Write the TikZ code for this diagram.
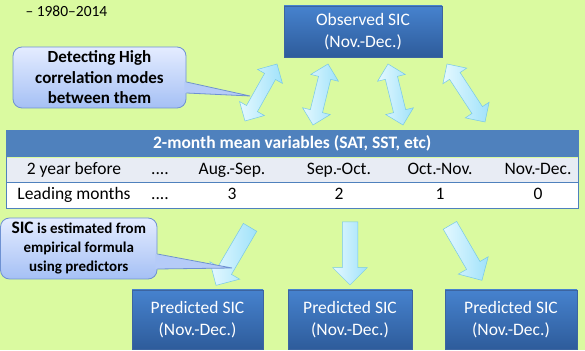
\documentclass[tikz,border=0pt]{standalone}
\usepackage{fontspec}
\setmainfont{Carlito}
\usetikzlibrary{positioning, calc, shapes.arrows}
\definecolor{bggreen}{RGB}{218,250,160}
\definecolor{sictop}{RGB}{70,130,206}
\definecolor{sicbot}{RGB}{46,92,155}
\definecolor{sicedge}{RGB}{60,100,160}
\definecolor{tblblue}{RGB}{79,129,189}
\definecolor{tblgray}{RGB}{232,236,244}
\definecolor{caltop}{RGB}{228,236,255}
\definecolor{calbot}{RGB}{165,192,245}
\definecolor{caledge}{RGB}{110,145,210}
\definecolor{arrlight}{RGB}{228,248,255}
\definecolor{arrcyan}{RGB}{160,226,250}
\definecolor{arredge}{RGB}{120,200,230}

\newcommand{\fourdots}{....}
% block arrow node between two named coordinates
\newcommand{\blockarrow}[3]{%
    \path let \p1=($(#3)-(#2)$), \n1={atan2(\y1,\x1)}, \n2={veclen(\x1,\y1)} in
        node[#1, rotate=\n1, minimum height=\n2] (#2-#3) at ($(#2)!0.5!(#3)$) {};
}

\begin{document}
\begin{tikzpicture}[
    x=1pt, y=1pt,
    every node/.style={font=\fontsize{17.5}{22}\selectfont},
    sic/.style={draw=sicedge, line width=0.4pt, top color=sictop,
        bottom color=sicbot, text=white, align=center, inner sep=0pt},
    row/.style={minimum width=572pt, minimum height=25pt, inner sep=0pt,
        anchor=north west},
    cell/.style={inner sep=0pt, anchor=base},
    cal/.style={rounded corners=9pt, draw=caledge, line width=0.8pt,
        top color=caltop, bottom color=calbot, align=center, inner sep=0pt},
    calwedge/.style={fill=calbot!75!caltop},
    dblarrow/.style={double arrow, draw=arredge, line width=0.5pt,
        left color=arrlight, right color=arrcyan, inner xsep=0pt,
        inner ysep=6pt, double arrow head extend=8pt,
        double arrow tip angle=90},
    sglarrow/.style={single arrow, draw=arredge, line width=0.5pt,
        left color=arrlight, right color=arrcyan, inner xsep=0pt,
        inner ysep=7.5pt, single arrow head extend=9.5pt,
        single arrow tip angle=90},
]
\useasboundingbox (0,0) rectangle (585,350);
\fill[bggreen] (0,0) rectangle (585,350);

\node[anchor=base west, font=\fontsize{15.5}{18}\selectfont] (period) at (22,333) {– 1980–2014};

% boxes
\node[sic, minimum width=158pt, minimum height=51pt] (obs) at (363,318.5) {Observed SIC\\(Nov.-Dec.)};
\node[sic, minimum width=131pt, minimum height=59pt] (pred1) at (197.5,30.5) {Predicted SIC\\(Nov.-Dec.)};
\node[sic, minimum width=124pt, minimum height=59pt] (pred2) at (350,30.5) {Predicted SIC\\(Nov.-Dec.)};
\node[sic, minimum width=132pt, minimum height=59pt] (pred3) at (511,30.5) {Predicted SIC\\(Nov.-Dec.)};

% table
\node[row, fill=tblblue, minimum height=27pt, text=white,
    font=\bfseries\fontsize{17.5}{22}\selectfont] (hdr) at (6,220) {2-month mean variables (SAT, SST, etc)};
\node[row, fill=tblgray] (yrrow) at (hdr.south west) {};
\node[row, fill=white] (ldrow) at (yrrow.south west) {};
\draw[tblblue, line width=0.8pt] (hdr.north west) rectangle (ldrow.south east);
\draw[tblblue, line width=0.6pt] (yrrow.south west) -- (yrrow.south east);
\foreach \x/\yr/\ld [count=\i] in {74/2 year before/Leading months, 160/\fourdots/\fourdots,
    232/Aug.-Sep./3, 339/Sep.-Oct./2, 440/Oct.-Nov./1, 538/Nov.-Dec./0} {
    \node[cell] (yr-\i) at (\x,175) {\yr};
    \node[cell] (ld-\i) at (\x,150) {\ld};
}

% arrows
\coordinate (d1a) at (277,286); \coordinate (d1b) at (245,229);
\coordinate (d2a) at (328,286); \coordinate (d2b) at (313,225);
\coordinate (d3a) at (388,286); \coordinate (d3b) at (403,225);
\coordinate (d4a) at (447,286); \coordinate (d4b) at (485,228);
\coordinate (s1a) at (252,126); \coordinate (s1b) at (218,68);
\coordinate (s2a) at (350,132); \coordinate (s2b) at (350,69);
\coordinate (s3a) at (448,128); \coordinate (s3b) at (480,73);
\foreach \i in {1,2,3,4} {
    \blockarrow{dblarrow}{d\i a}{d\i b}
}
\foreach \i in {1,2,3} {
    \blockarrow{sglarrow}{s\i a}{s\i b}
}

% callouts
\node[cal, minimum width=173pt, minimum height=61pt,
    font=\bfseries\fontsize{17}{20.5}\selectfont] (cal-hi) at (99.5,272.5)
    {Detecting High\\correlation modes\\between them};
\coordinate (hi-tip) at (250,254);
\fill[calwedge] ($(cal-hi.east)+(-2,-4.5)$) -- (hi-tip) -- ($(cal-hi.east)+(-2,-15.5)$) -- cycle;
\draw[caledge, line width=0.8pt] ($(cal-hi.east)+(0,-4.5)$) -- (hi-tip) -- ($(cal-hi.east)+(0,-15.5)$);

\node[cal, minimum width=156.5pt, minimum height=61pt,
    font=\bfseries\fontsize{15}{19}\selectfont] (cal-est) at (78.75,101.5)
    {{\fontsize{17.5}{19}\selectfont SIC} is estimated from\\empirical formula\\using predictors};
\coordinate (est-tip) at (232,82);
\fill[calwedge] ($(cal-est.east)+(-2,-5.5)$) -- (est-tip) -- ($(cal-est.east)+(-2,-20.5)$) -- cycle;
\draw[caledge, line width=0.8pt] ($(cal-est.east)+(0,-5.5)$) -- (est-tip) -- ($(cal-est.east)+(0,-20.5)$);

\end{tikzpicture}
\end{document}
